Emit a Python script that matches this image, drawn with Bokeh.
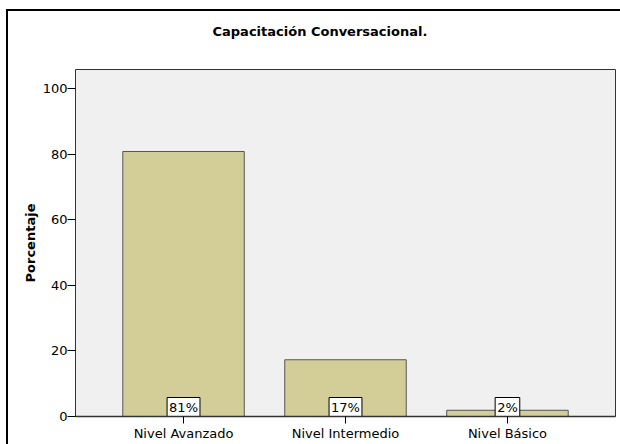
from bokeh.plotting import figure
from bokeh.models import ColumnDataSource, FixedTicker, Range1d
from bokeh.core.properties import value
from bokeh.embed import file_html
from bokeh.resources import INLINE

categories = ["Nivel Avanzado", "Nivel Intermedio", "Nivel Básico"]
percentages = [80.8, 17.3, 1.9]
pct_labels = ["81%", "17%", "2%"]
y_ticks = [0, 20, 40, 60, 80, 100]

xs = list(range(1, len(categories) + 1))
src = ColumnDataSource(dict(x=xs, top=percentages, lab=pct_labels, zero=[0] * len(xs)))

FONT = "DejaVu Sans"

p = figure(width=620, height=444, output_backend="svg", toolbar_location=None,
           x_range=Range1d(0.333, 3.667), y_range=Range1d(0, 105.8),
           min_border_left=75, min_border_right=5, min_border_top=69, min_border_bottom=28,
           background_fill_color="#f0f0f0", border_fill_alpha=0)
p.styles = {
    "background-color": "white",
    "background-image": "linear-gradient(black, black), linear-gradient(black, black)",
    "background-size": "2px 435px, 614px 2px",
    "background-position": "6px 9px, 6px 9px",
    "background-repeat": "no-repeat, no-repeat",
}
p.outline_line_color = "#333333"
p.outline_line_width = 1
p.grid.visible = False

p.title.text = "Capacitación Conversacional."
p.title.align = "left"
p.title.offset = 137
p.title.standoff = 10
p.title.padding = dict(left=0, right=0, top=0, bottom=26)
p.title.text_font = FONT
p.title.text_font_size = "13px"
p.title.text_font_style = "bold"
p.title.text_color = "black"

p.vbar(x="x", top="top", bottom=0, width=0.75, source=src,
       fill_color="#d3ce97", line_color="#555555", line_width=1)

p.text(x="x", y="zero", text="lab", source=src, text_align="center",
       text_baseline="bottom", text_font=value(FONT), text_font_size="13px",
       text_color="black", background_fill_color="white",
       border_line_color="black", border_line_width=1, padding=2, y_offset=0)

p.yaxis.ticker = FixedTicker(ticks=y_ticks)
p.yaxis.minor_tick_line_color = None
p.yaxis.major_tick_out = 8
p.yaxis.major_tick_in = 0
p.yaxis.major_tick_line_color = "black"
p.yaxis.axis_line_color = None
p.yaxis.major_label_standoff = 0
p.yaxis.major_label_text_font = FONT
p.yaxis.major_label_text_font_size = "13px"
p.yaxis.major_label_text_color = "black"
p.yaxis.axis_label = "Porcentaje"
p.yaxis.axis_label_text_font = FONT
p.yaxis.axis_label_text_font_size = "13px"
p.yaxis.axis_label_text_font_style = "bold"
p.yaxis.axis_label_text_color = "black"
p.yaxis.axis_label_standoff = 2

p.xaxis.ticker = FixedTicker(ticks=xs)
p.xaxis.major_label_overrides = {x: c for x, c in zip(xs, categories)}
p.xaxis.minor_tick_line_color = None
p.xaxis.major_tick_out = 7
p.xaxis.major_tick_in = 0
p.xaxis.major_tick_line_color = "black"
p.xaxis.axis_line_color = "#333333"
p.xaxis.axis_line_width = 1.5
p.xaxis.major_label_standoff = 2
p.xaxis.major_label_text_font = FONT
p.xaxis.major_label_text_font_size = "13px"
p.xaxis.major_label_text_color = "black"

html = file_html(p, INLINE)
html = html.replace("<head>", "<head><style>html, body { overflow: hidden; }</style>", 1)
open("out.html", "w").write(html)
